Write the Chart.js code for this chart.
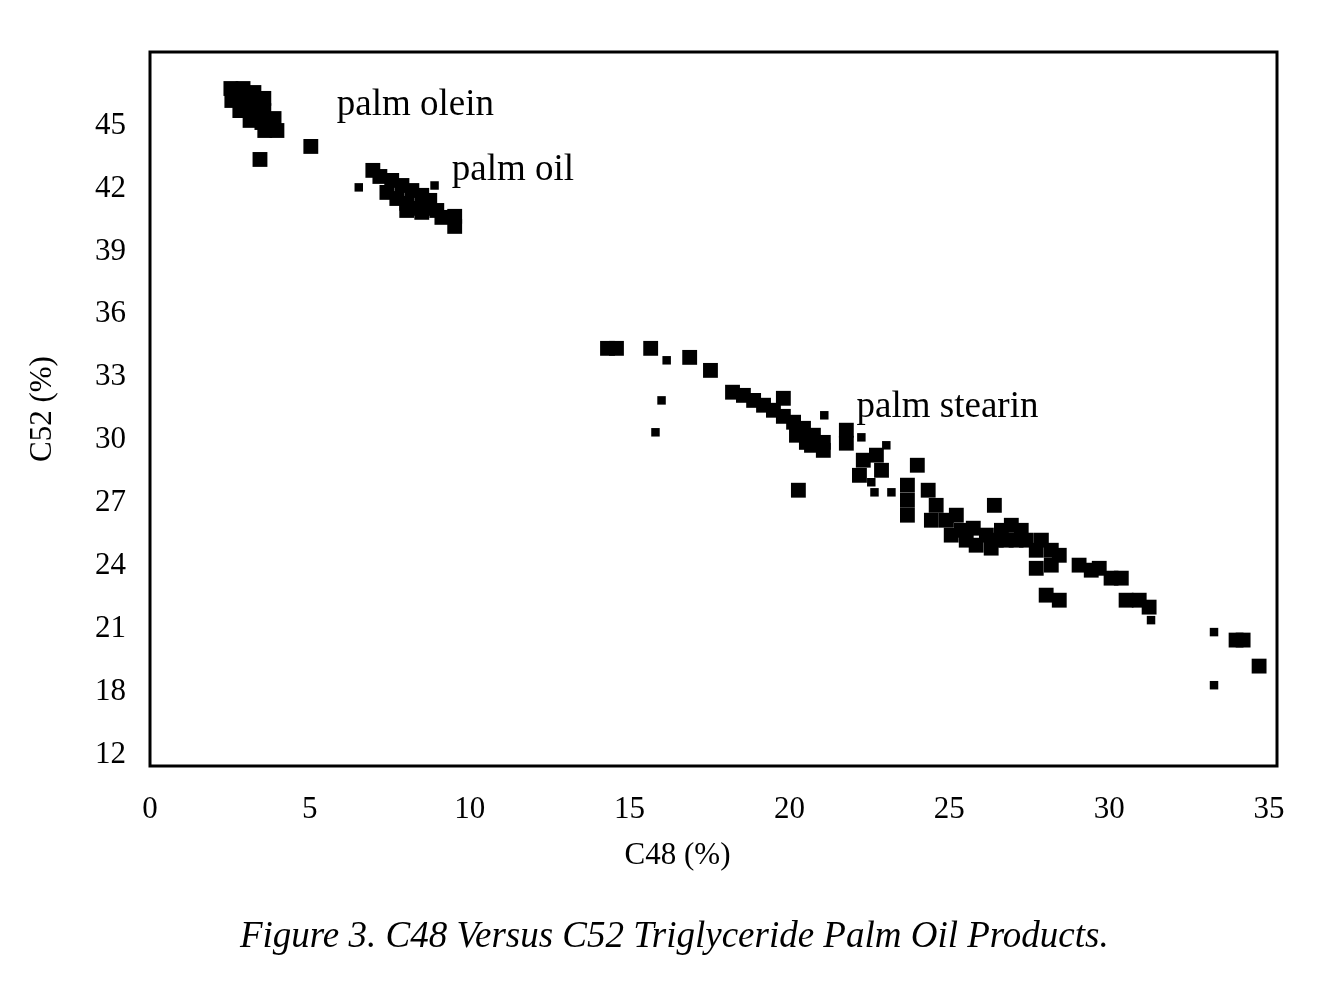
<!DOCTYPE html>
<html>
<head>
<meta charset="utf-8">
<script src="https://cdn.jsdelivr.net/npm/chart.js"></script>
<style>
    html, body { margin: 0; padding: 0; background: #fff; }
    #wrap { width: 1320px; height: 996px; }
</style>
</head>
<body>
<div id="wrap"><canvas id="myChart"></canvas></div>
<script>
// C48 (%) / C52 (%)
const bigX = [2.53, 2.91, 3.25, 2.56, 2.94, 3.31, 3.56, 2.81, 3.19, 3.56, 3.13, 3.5, 3.88, 3.97, 3.59, 3.44, 5.03,
    6.97, 7.19, 7.56, 7.88, 8.19, 8.5, 8.75, 7.41, 7.72, 8.03, 8.34, 8.66, 8.97, 9.53, 9.53,
    8.03, 8.5, 9.13,
    14.31, 14.59, 15.66, 16.88, 17.53,
    18.22, 18.56, 18.88, 19.19, 19.5, 19.81, 19.81, 20.13, 20.44, 20.75, 21.06, 21.06, 20.69, 21.78, 21.78,
    20.53, 20.22,
    22.31, 22.72, 22.88, 22.19, 20.28,
    24.0, 23.69, 23.69, 23.69, 24.34, 24.59, 24.44, 24.91, 25.22, 25.38, 25.75, 26.16, 26.47, 26.78, 27.09,
    27.41, 27.88, 25.06, 25.53, 25.84, 26.31, 26.63, 26.94, 27.25, 26.41, 27.72, 28.19, 27.72, 28.19, 28.44,
    28.03, 28.44, 29.06, 29.44, 29.69, 30.06, 30.38, 30.53, 30.94, 31.25, 33.97, 34.19, 34.69];
const bigY = [46.76, 46.76, 46.57, 46.19, 46.19, 46.19, 46.29, 45.71, 45.71, 45.71, 45.24, 45.14, 45.33, 44.76, 44.76, 43.38, 44.0,
    42.86, 42.57, 42.38, 42.14, 41.9, 41.67, 41.43, 41.81, 41.52, 41.29, 41.05, 41.05, 40.95, 40.67, 40.19,
    40.95, 40.86, 40.62,
    34.38, 34.38, 34.38, 33.95, 33.33,
    32.29, 32.14, 31.9, 31.67, 31.43, 32.0, 31.14, 30.86, 30.57, 30.24, 29.9, 29.52, 29.76, 30.48, 29.86,
    29.9, 30.24,
    29.05, 29.29, 28.57, 28.33, 27.62,
    28.81, 27.86, 27.14, 26.43, 27.62, 26.9, 26.19, 26.19, 26.43, 25.71, 25.81, 25.48, 25.24, 25.24, 25.24,
    25.24, 25.24, 25.48, 25.24, 25.0, 24.86, 25.71, 25.95, 25.71, 26.9, 24.76, 24.76, 23.9, 24.05, 24.52,
    22.62, 22.38, 24.05, 23.81, 23.9, 23.43, 23.43, 22.38, 22.38, 22.05, 20.48, 20.48, 19.24];

const smallX = [6.53, 8.9, 16.16, 16.0, 15.81, 21.09, 22.25, 22.56, 23.03, 22.66, 23.19, 31.31, 33.28, 33.28];
const smallY = [42.05, 42.14, 33.81, 31.9, 30.38, 31.19, 30.14, 28.0, 29.76, 27.52, 27.52, 21.43, 20.86, 18.33];

const xTicks = [0, 5, 10, 15, 20, 25, 30, 35];
// the axis is broken at the bottom: the lowest mark (at 15) reads 12
const yTickPos = [15, 18, 21, 24, 27, 30, 33, 36, 39, 42, 45];
const yTickLabels = ['12', '18', '21', '24', '27', '30', '33', '36', '39', '42', '45'];

const labelNames = ['palm olein', 'palm oil', 'palm stearin'];
const labelX = [5.84, 9.44, 22.1];
const labelY = [45.95, 42.86, 31.57];

const xTitle = 'C48 (%)';
const caption = 'Figure 3. C48 Versus C52 Triglyceride Palm Oil Products.';

function toPoints(xs, ys) {
    return xs.map((x, i) => ({ x: x, y: ys[i] }));
}

const serif = '"Liberation Serif", "Times New Roman", serif';

const boxPlugin = {
    id: 'box',
    afterDraw(chart) {
        const { ctx, chartArea: a, scales } = chart;
        ctx.save();
        ctx.strokeStyle = '#000';
        ctx.lineWidth = 3;
        ctx.strokeRect(a.left, a.top, a.right - a.left, a.bottom - a.top);
        ctx.fillStyle = '#000';
        ctx.textBaseline = 'middle';
        ctx.textAlign = 'left';
        ctx.font = '37px ' + serif;
        labelNames.forEach((t, i) => {
            ctx.fillText(t, scales.x.getPixelForValue(labelX[i]), scales.y.getPixelForValue(labelY[i]));
        });
        // x axis title sits a bit left of the middle in the original
        ctx.textAlign = 'center';
        ctx.font = '31px ' + serif;
        ctx.fillText(xTitle, scales.x.getPixelForValue(16.5), a.bottom + 90);
        ctx.font = 'italic 37px ' + serif;
        ctx.fillText(caption, scales.x.getPixelForValue(16.4), a.bottom + 171);
        ctx.restore();
    }
};

new Chart(document.getElementById('myChart'), {
    type: 'scatter',
    data: {
        datasets: [
            {
                data: toPoints(bigX, bigY),
                pointStyle: 'rect',
                pointRadius: 10.5,
                backgroundColor: '#000',
                borderColor: '#000',
                borderWidth: 0
            },
            {
                data: toPoints(smallX, smallY),
                pointStyle: 'rect',
                pointRadius: 6,
                backgroundColor: '#000',
                borderColor: '#000',
                borderWidth: 0
            }
        ]
    },
    options: {
        responsive: true,
        maintainAspectRatio: false,
        animation: false,
        layout: { padding: { left: 0, right: 43, top: 52, bottom: 0 } },
        plugins: {
            legend: { display: false },
            tooltip: { enabled: false }
        },
        scales: {
            x: {
                type: 'linear',
                min: 0,
                max: 35.25,
                afterBuildTicks: (s) => { s.ticks = xTicks.map(v => ({ value: v })); },
                afterFit: (s) => { s.height = 230; },
                grid: { display: false, drawTicks: false },
                border: { display: false },
                ticks: { color: '#000', padding: 25, maxRotation: 0, font: { family: serif, size: 31 } }
            },
            y: {
                type: 'linear',
                min: 14.48,
                max: 48.5,
                afterBuildTicks: (s) => { s.ticks = yTickPos.map(v => ({ value: v })); },
                afterFit: (s) => { s.width = 150; },
                grid: { display: false, drawTicks: false },
                border: { display: false },
                ticks: {
                    color: '#000',
                    padding: 24,
                    font: { family: serif, size: 31 },
                    callback: (v) => yTickLabels[yTickPos.indexOf(v)]
                },
                title: {
                    display: true,
                    text: 'C52 (%)',
                    color: '#000',
                    font: { family: serif, size: 31 },
                    padding: { top: 24, bottom: 0 }
                }
            }
        }
    },
    plugins: [boxPlugin]
});
</script>
</body>
</html>
